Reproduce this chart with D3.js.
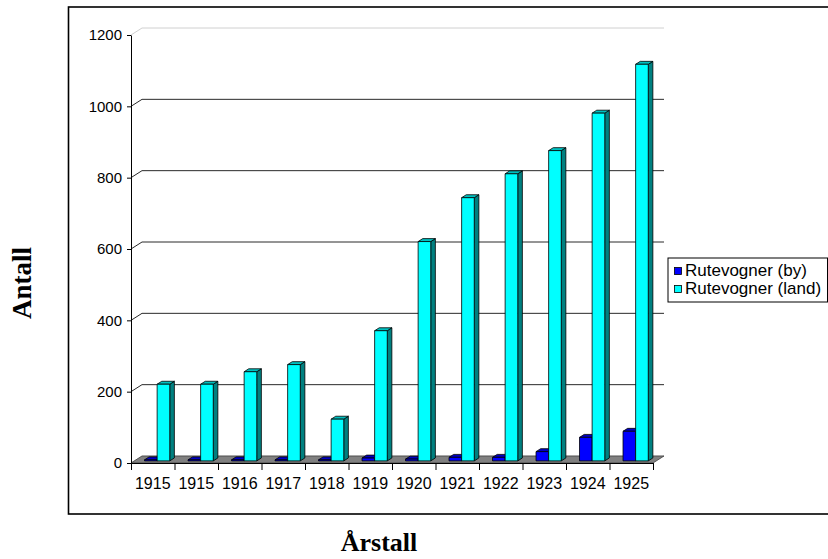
<!DOCTYPE html>
<html>
<head>
<meta charset="utf-8">
<script src="https://cdn.jsdelivr.net/npm/d3@7"></script>
<style>
    body { margin: 0; background: #fff; }
    svg { display: block; }
</style>
</head>
<body>
<svg id="chart" width="828" height="559"></svg>
<script>
(function(d3) {
    'use strict';

    var years = ['1915', '1915', '1916', '1917', '1918', '1919', '1920', '1921', '1922', '1923', '1924', '1925'];
    var byValues = [3, 3, 3, 3, 3, 8, 5, 10, 10, 26, 66, 83];
    var landValues = [215, 215, 250, 270, 117, 365, 615, 738, 805, 870, 975, 1112];
    var yTicks = [0, 200, 400, 600, 800, 1000, 1200];
    var seriesNames = ['Rutevogner (by)', 'Rutevogner (land)'];
    var seriesColors = [
        {face: '#0000ff', top: '#0000c0', side: '#000080'},
        {face: '#00ffff', top: '#00c0c0', side: '#008080'}
    ];

    var svg = d3.select('#chart');
    var depth = {x: 11, y: -7};

    var x = d3.scaleBand().domain(d3.range(years.length)).range([131, 653]);
    var xEdges = d3.scaleLinear().domain([0, years.length]).range([131, 653]);
    var y = d3.scaleLinear().domain([0, 1200]).range([463, 35]);

    function pts(list) {
        return list.map(function(p) { return p[0] + ',' + p[1]; }).join(' ');
    }

    // chart area border (runs off the right edge)
    svg.append('rect')
        .attr('x', 68.5).attr('y', 7)
        .attr('width', 800).attr('height', 507)
        .attr('fill', 'none')
        .attr('stroke', '#000')
        .attr('stroke-width', 1.6);

    // back wall grid + side wall diagonals
    var grid = svg.append('g');
    yTicks.forEach(function(t) {
        var c = t === 1200 ? '#d0d0d0' : (t === 0 ? '#d8d8d8' : '#2a2a2a');
        grid.append('line')
            .attr('x1', x.range()[0] + depth.x).attr('x2', x.range()[1] + depth.x)
            .attr('y1', y(t) + depth.y).attr('y2', y(t) + depth.y)
            .attr('stroke', c);
        grid.append('line')
            .attr('x1', x.range()[0]).attr('x2', x.range()[0] + depth.x)
            .attr('y1', y(t)).attr('y2', y(t) + depth.y)
            .attr('stroke', c);
    });

    // floor
    svg.append('polygon')
        .attr('points', pts([
            [131, y(0)], [653, y(0)],
            [653 + depth.x, y(0) + depth.y], [131 + depth.x, y(0) + depth.y]
        ]))
        .attr('fill', '#808080')
        .attr('stroke', '#404040')
        .attr('stroke-width', 0.8);

    // bars
    var bw = x.bandwidth();
    var d0 = 0.3, d1 = 0.72;
    var f = {x: depth.x * d0, y: depth.y * d0};
    var b = {x: depth.x * d1, y: depth.y * d1};
    var barsG = svg.append('g')
        .attr('stroke', '#000')
        .attr('stroke-width', 0.8)
        .attr('stroke-linejoin', 'round');

    years.forEach(function(yr, i) {
        [byValues[i], landValues[i]].forEach(function(v, s) {
            var w = bw * 0.29;
            var x0 = x(i) + bw * 0.235 + s * w;
            var yt = y(v), yb = y(0);
            var col = seriesColors[s];
            var g = barsG.append('g');
            g.append('polygon')
                .attr('points', pts([
                    [x0 + w + f.x, yt + f.y], [x0 + w + b.x, yt + b.y],
                    [x0 + w + b.x, yb + b.y], [x0 + w + f.x, yb + f.y]
                ]))
                .attr('fill', col.side);
            g.append('polygon')
                .attr('points', pts([
                    [x0 + f.x, yt + f.y], [x0 + b.x, yt + b.y],
                    [x0 + w + b.x, yt + b.y], [x0 + w + f.x, yt + f.y]
                ]))
                .attr('fill', col.top);
            g.append('rect')
                .attr('x', x0 + f.x).attr('y', yt + f.y)
                .attr('width', w).attr('height', yb - yt)
                .attr('fill', col.face);
        });
    });

    // y axis
    var yAxis = svg.append('g')
        .attr('transform', 'translate(131,0)')
        .call(d3.axisLeft(y).tickValues(yTicks).tickSize(4).tickSizeOuter(0)
            .tickPadding(5).tickFormat(d3.format('d')));
    yAxis.selectAll('text')
        .attr('font-family', '"Liberation Sans", Arial, sans-serif')
        .attr('font-size', 15)
        .attr('fill', '#000');
    yAxis.selectAll('line, path').attr('stroke', '#000');

    // x axis ticks at category edges
    var xAxis = svg.append('g')
        .attr('transform', 'translate(0,' + y(0) + ')')
        .call(d3.axisBottom(xEdges).tickValues(d3.range(years.length + 1))
            .tickSize(7).tickSizeOuter(0).tickFormat(''));
    xAxis.selectAll('line, path').attr('stroke', '#000');

    var xLabels = svg.append('g')
        .attr('transform', 'translate(0,' + y(0) + ')')
        .call(d3.axisBottom(x).tickSize(0).tickPadding(14.5)
            .tickFormat(function(i) { return years[i]; }));
    xLabels.select('.domain').remove();
    xLabels.selectAll('text')
        .attr('font-family', '"Liberation Sans", Arial, sans-serif')
        .attr('font-size', 16)
        .attr('fill', '#000');

    // axis titles
    svg.append('text')
        .attr('transform', 'translate(31,283) rotate(-90)')
        .attr('text-anchor', 'middle')
        .attr('font-family', '"Liberation Serif", "Times New Roman", serif')
        .attr('font-weight', 'bold')
        .attr('font-size', 27)
        .text('Antall');

    svg.append('text')
        .attr('x', 379).attr('y', 551)
        .attr('text-anchor', 'middle')
        .attr('font-family', '"Liberation Serif", "Times New Roman", serif')
        .attr('font-weight', 'bold')
        .attr('font-size', 26)
        .text('Årstall');

    // legend
    var legend = svg.append('g');
    legend.append('rect')
        .attr('x', 668).attr('y', 258)
        .attr('width', 159.5).attr('height', 44)
        .attr('fill', '#fff')
        .attr('stroke', '#000');
    seriesNames.forEach(function(name, s) {
        var by = 276 + s * 18;
        legend.append('rect')
            .attr('x', 674.5).attr('y', by - 8.5)
            .attr('width', 7).attr('height', 7)
            .attr('fill', seriesColors[s].face)
            .attr('stroke', '#000')
            .attr('stroke-width', 0.8);
        legend.append('text')
            .attr('x', 685).attr('y', by)
            .attr('font-family', '"Liberation Sans", Arial, sans-serif')
            .attr('font-size', 17)
            .text(name);
    });
}(d3));
</script>
</body>
</html>
